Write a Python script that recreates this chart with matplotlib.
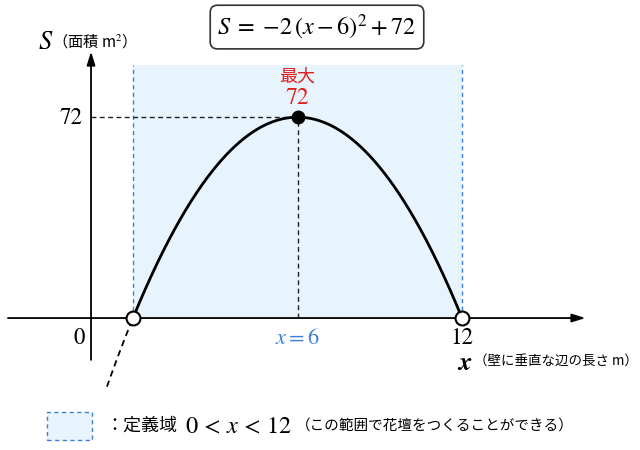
import matplotlib
matplotlib.use("Agg")
import matplotlib.pyplot as plt
import numpy as np
from matplotlib.patches import Rectangle

plt.rcParams['mathtext.fontset'] = 'stix'
plt.rcParams['font.family'] = ['Noto Sans CJK JP', 'DejaVu Sans']

# --- data ---
a_coef, h_coef, k_coef = -2, 6, 72          # S = -2(x-6)^2 + 72
domain = [0, 12]                             # 0 < x < 12
vertex_x, vertex_y = 6, 72
tick_y_labels = ["72"]
tick_x_labels = ["0", "x=6", "12"]
ext_left = -0.95                             # dashed continuation outside domain

CJK = ['Noto Sans CJK JP', 'DejaVu Sans']
BLUE = '#3f7fd9'
RED = '#e0201c'
FILL = '#e8f4fd'

def S(x):
    return a_coef * (np.asarray(x) - h_coef) ** 2 + k_coef

fig = plt.figure(figsize=(6.4, 4.5), dpi=100)
ax = fig.add_axes([0, 0, 1, 1])
ax.set_xlim(-4.85, 18.49)
ax.set_ylim(-47.3, 114.0)
ax.axis('off')

# domain shading
top = 90.7
ax.add_patch(Rectangle((domain[0], 0), domain[1] - domain[0], top,
                       facecolor=FILL, edgecolor='none', zorder=0))
for xv in domain:
    ax.plot([xv, xv], [0, top], ls=(0, (3, 2.5)), color=BLUE, lw=1.0, zorder=1)

# axes
yax = -1.53
ax.annotate('', xy=(16.5, 0), xytext=(-4.56, 0),
            arrowprops=dict(arrowstyle='-|>,head_length=0.8,head_width=0.25',
                            color='black', lw=1.3, shrinkA=0, shrinkB=0), zorder=3)
ax.annotate('', xy=(yax, 95.5), xytext=(yax, -15),
            arrowprops=dict(arrowstyle='-|>,head_length=0.8,head_width=0.25',
                            color='black', lw=1.3, shrinkA=0, shrinkB=0), zorder=3)

# guide lines
ax.plot([yax, vertex_x], [vertex_y, vertex_y], ls=(0, (3.5, 2.5)), color='#222222', lw=1.0, zorder=2)
ax.plot([vertex_x, vertex_x], [0, vertex_y], ls=(0, (3.5, 2.5)), color='#222222', lw=1.0, zorder=2)

# curve
xs = np.linspace(domain[0], domain[1], 400)
ax.plot(xs, S(xs), color='black', lw=2.0, zorder=4)
xe = np.linspace(ext_left, domain[0], 50)
ax.plot(xe, S(xe), color='black', lw=1.3, ls=(0, (3.5, 2.5)), zorder=4)

# points
ax.plot(domain, [S(domain[0]), S(domain[1])], 'o', ms=10, mfc='white', mec='black', mew=1.5, zorder=6)
ax.plot([vertex_x], [vertex_y], 'o', ms=9, color='black', zorder=6)

# labels
ax.text(-1.85, vertex_y - 0.3, tick_y_labels[0], ha='right', va='center', fontsize=16.5, fontfamily='STIXGeneral')
ax.text(-1.75, -7.3, tick_x_labels[0], ha='right', va='center', fontsize=16.5, fontfamily='STIXGeneral')
ax.text(vertex_x, -7.0, r'$x=6$', ha='center', va='center', fontsize=16, color=BLUE)
ax.text(domain[1], -7.3, tick_x_labels[2], ha='center', va='center', fontsize=16.5, fontfamily='STIXGeneral')

ax.text(vertex_x, 86.6, '最大', ha='center', va='center', fontsize=13, color=RED, family=CJK)
ax.text(vertex_x, 78.8, '72', ha='center', va='center', fontsize=17, color=RED, fontfamily='STIXGeneral')

ax.text(-3.45, 99.0, r'$S$', ha='left', va='center', fontsize=19)
ax.text(-2.95, 99.3, '（面積 m$^2$）', ha='left', va='center', fontsize=11, family=CJK)

ax.text(11.8, -15.9, r'$\boldsymbol{x}$', ha='left', va='center', fontsize=19)
ax.text(12.42, -15.4, '（壁に垂直な辺の長さ m）', ha='left', va='center', fontsize=9.7, family=CJK)

# equation box
ax.text(6.71, 104.3, r'$S\;=\;{-2}\,(x-6)^2+72$', ha='center', va='center', fontsize=17.5,
        bbox=dict(boxstyle='round,pad=0.3,rounding_size=0.3', fc='white', ec='#333333', lw=1.2))

# legend
ax.add_patch(Rectangle((-3.14, -43.7), 1.64, 10.0, facecolor=FILL, edgecolor=BLUE,
                       ls=(0, (3, 2.5)), lw=1.0, zorder=2))
ax.text(-1.0, -38.7, '：定義域', ha='left', va='center', fontsize=13, family=CJK)
ax.text(1.9, -38.9, r'$0\,<\,x\,<\,12$', ha='left', va='center', fontsize=17.5)
ax.text(5.95, -38.7, '（この範囲で花壇をつくることができる）', ha='left', va='center', fontsize=10.5, family=CJK)

fig.savefig('out.png', dpi=100)
